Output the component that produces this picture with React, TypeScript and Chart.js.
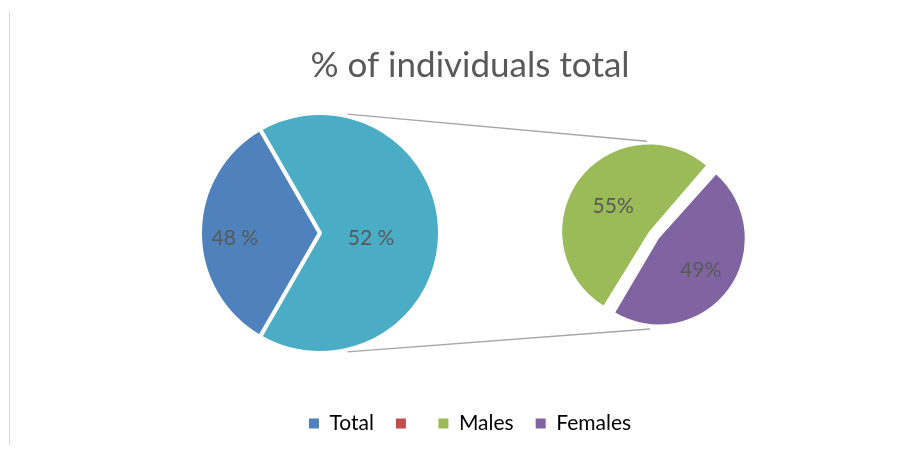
import React, { useEffect, useRef } from "react";
import { Chart, registerables } from "chart.js";

Chart.register(...registerables);

// ---------- data ----------
const TITLE = "% of individuals total";
const LEGEND_NAMES = ["Total", "", "Males", "Females"];
const LEGEND_COLORS = ["#4F81BD", "#C0504D", "#9BBB59", "#8064A2"];

const SUB_LABELS = ["Males", "Females"];
const SUB_VALUES = [55, 49];
const SUB_TEXT = ["55%", "49%"];
const SUB_COLORS = ["#9BBB59", "#8064A2"];

const TOTAL_VALUE = 52;
const MAIN_LABELS = ["Total", "Other"];
const MAIN_VALUES = [TOTAL_VALUE, SUB_VALUES.reduce((a, b) => a + b, 0)];
const MAIN_TEXT = ["48 %", "52 %"];
const MAIN_COLORS = ["#4F81BD", "#4BACC6"];

const FONT = "Lato, 'Open Sans', sans-serif";
const TEXT_COLOR = "#595959";

// ---------- plugins ----------
const sliceLabels = {
  id: "sliceLabels",
  afterDatasetsDraw(chart: any, _args: any, opts: any) {
    const meta = chart.getDatasetMeta(0);
    const ctx = chart.ctx;
    ctx.save();
    ctx.font = `${opts.size}px ${FONT}`;
    ctx.fillStyle = TEXT_COLOR;
    ctx.textAlign = "center";
    ctx.textBaseline = "middle";
    meta.data.forEach((arc: any, i: number) => {
      const p = arc.getProps(["x", "y", "startAngle", "endAngle", "outerRadius"], true);
      const mid = (p.startAngle + p.endAngle) / 2;
      const off = (arc.options.offset || 0) / 4;
      const r = p.outerRadius * opts.radii[i] + off;
      ctx.fillText(opts.texts[i], p.x + Math.cos(mid) * r, p.y + Math.sin(mid) * r + opts.dy);
    });
    ctx.restore();
  },
};

export default function App() {
  const frameRef = useRef<HTMLCanvasElement>(null);
  const mainRef = useRef<HTMLCanvasElement>(null);
  const subRef = useRef<HTMLCanvasElement>(null);

  useEffect(() => {
    const main = new Chart(mainRef.current!, {
      type: "pie",
      data: {
        labels: MAIN_LABELS,
        datasets: [
          {
            data: MAIN_VALUES,
            backgroundColor: MAIN_COLORS,
            borderColor: "#ffffff",
            borderWidth: 4,
          },
        ],
      },
      options: {
        responsive: false,
        animation: false,
        radius: 120,
        rotation: 210,
        layout: { padding: 0 },
        plugins: {
          legend: { display: false },
          title: { display: false },
          tooltip: { enabled: false },
          sliceLabels: { texts: MAIN_TEXT, radii: [0.71, 0.425], dy: 5, size: 21 },
        } as any,
      } as any,
      plugins: [sliceLabels],
    });

    const sub = new Chart(subRef.current!, {
      type: "pie",
      data: {
        labels: SUB_LABELS,
        datasets: [
          {
            data: SUB_VALUES,
            backgroundColor: SUB_COLORS,
            borderWidth: 0,
            offset: 24,
          },
        ],
      },
      options: {
        responsive: false,
        animation: false,
        radius: 81,
        rotation: 211,
        layout: { padding: 0 },
        plugins: {
          legend: { display: false },
          title: { display: false },
          tooltip: { enabled: false },
          sliceLabels: { texts: SUB_TEXT, radii: [0.55, 0.64], dy: 1, size: 21 },
        } as any,
      } as any,
      plugins: [sliceLabels],
    });

    const connectors = {
      id: "connectors",
      afterDraw(chart: any) {
        const fr = chart.canvas.getBoundingClientRect();
        const geo = (c: any) => {
          const r = c.canvas.getBoundingClientRect();
          const arc: any = c.getDatasetMeta(0).data[0];
          return { x: r.left - fr.left + arc.x, y: r.top - fr.top + arc.y };
        };
        const m = geo(main);
        const s = geo(sub);
        const pt = (c: any, rad: number, deg: number) => {
          const a = (deg * Math.PI) / 180;
          return [c.x + Math.sin(a) * rad, c.y - Math.cos(a) * rad];
        };
        const lines = [
          [pt(m, 122, 13), pt(s, 94, -4.3)],
          [pt(m, 122, 167), pt(s, 94, 182.4)],
        ];
        const ctx = chart.ctx;
        ctx.save();
        ctx.strokeStyle = "#A6A6A6";
        ctx.lineWidth = 1.5;
        lines.forEach(([a, b]) => {
          ctx.beginPath();
          ctx.moveTo(a[0], a[1]);
          ctx.lineTo(b[0], b[1]);
          ctx.stroke();
        });
        ctx.restore();
      },
    };

    const frame = new Chart(frameRef.current!, {
      type: "pie",
      data: { labels: LEGEND_NAMES, datasets: [] },
      options: {
        responsive: false,
        animation: false,
        layout: { padding: { left: 25, bottom: 6 } },
        plugins: {
          tooltip: { enabled: false },
          title: {
            display: true,
            text: TITLE,
            color: TEXT_COLOR,
            font: { family: FONT, size: 35, weight: "normal" },
            padding: { top: 45, bottom: 0 },
          },
          legend: {
            display: true,
            position: "bottom",
            onClick: () => {},
            labels: {
              color: TEXT_COLOR,
              font: { family: FONT, size: 21 },
              boxWidth: 10,
              boxHeight: 10,
              padding: 22,
              generateLabels: () =>
                LEGEND_NAMES.map((name, i) => ({
                  text: name,
                  fillStyle: LEGEND_COLORS[i],
                  strokeStyle: LEGEND_COLORS[i],
                  lineWidth: 0,
                  hidden: false,
                  index: i,
                })),
            },
          },
        },
      } as any,
      plugins: [connectors],
    });

    return () => {
      frame.destroy();
      sub.destroy();
      main.destroy();
    };
  }, []);

  return (
    <div style={{ position: "fixed", left: 0, top: 0, width: 915, height: 450, background: "#ffffff", overflow: "hidden" }}>
      <div style={{ position: "absolute", left: 9, top: 12, width: 1, height: 433, background: "#d6d6d6" }} />
      <canvas ref={mainRef} width={260} height={260} style={{ position: "absolute", left: 190, top: 103 }} />
      <canvas ref={subRef} width={220} height={220} style={{ position: "absolute", left: 544, top: 125 }} />
      <canvas ref={frameRef} width={915} height={450} style={{ position: "absolute", left: 0, top: 0, pointerEvents: "none" }} />
    </div>
  );
}
